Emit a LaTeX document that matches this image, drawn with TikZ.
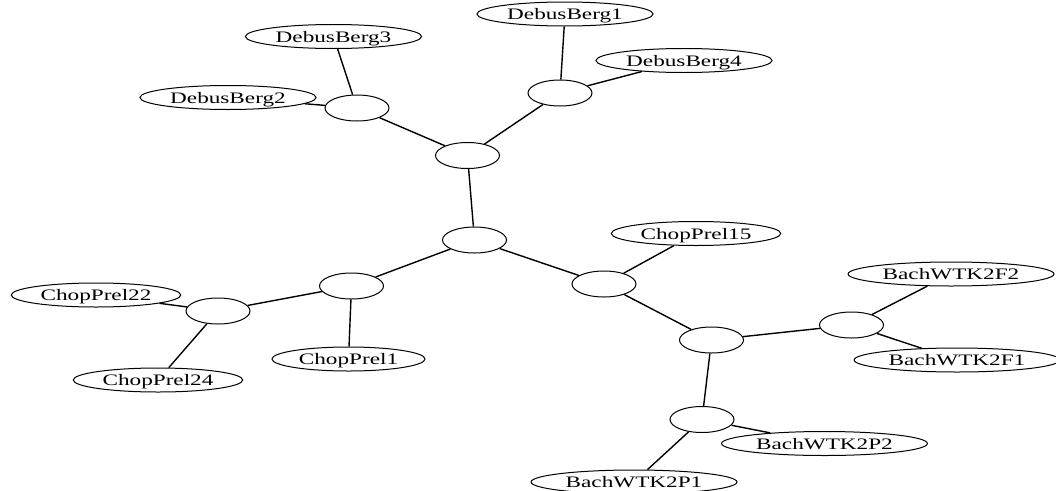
\documentclass[tikz,border=0pt]{standalone}
\usepackage{fontspec}
\setmainfont{Liberation Serif}
\newfontfamily\treefont[FakeStretch=1.45]{Liberation Serif}
\usetikzlibrary{shapes.geometric}

\tikzset{
  piece/.style={ellipse, draw, line width=1pt, inner xsep=4.5pt, inner ysep=0pt,
    minimum height=24pt, text height=11pt, text depth=0pt,
    font=\treefont\fontsize{16}{19}\selectfont},
  hub/.style={ellipse, draw, line width=1pt, minimum width=64pt,
    minimum height=26pt, inner sep=0pt},
  link/.style={line width=1.4pt}
}

\begin{document}
\begin{tikzpicture}[x=1pt,y=-1pt]
                            % Frame
                            \useasboundingbox (0,0) rectangle (1056,490);

                            % Inner nodes
                            \node[hub] (h1) at (357,108) {};
                            \node[hub] (h2) at (560,93) {};
                            \node[hub] (h3) at (467.5,155.5) {};
                            \node[hub] (h4) at (474.5,240) {};
                            \node[hub] (h5) at (351.5,286) {};
                            \node[hub] (h6) at (218,311) {};
                            \node[hub] (h7) at (604,284) {};
                            \node[hub] (h8) at (711.5,340) {};
                            \node[hub] (h9) at (851.5,325) {};
                            \node[hub] (h10) at (702,419.5) {};

                            % Pieces
                            \node[piece] (db1) at (565,14) {DebusBerg1};
                            \node[piece] (db2) at (228,97.5) {DebusBerg2};
                            \node[piece] (db3) at (333.5,36.5) {DebusBerg3};
                            \node[piece] (db4) at (684,60.5) {DebusBerg4};
                            \node[piece] (cp1) at (348.5,359) {ChopPrel1};
                            \node[piece] (cp15) at (696,233.5) {ChopPrel15};
                            \node[piece] (cp22) at (96,295) {ChopPrel22};
                            \node[piece] (cp24) at (158,380) {ChopPrel24};
                            \node[piece] (bf1) at (957,360) {BachWTK2F1};
                            \node[piece] (bf2) at (951,274) {BachWTK2F2};
                            \node[piece] (bp1) at (634,482) {BachWTK2P1};
                            \node[piece] (bp2) at (824.5,443.5) {BachWTK2P2};

                            % Edges
                            \draw[link] (db3) -- (h1);
                            \draw[link] (db2) -- (h1);
                            \draw[link] (h1) -- (h3);
                            \draw[link] (db1) -- (h2);
                            \draw[link] (db4) -- (h2);
                            \draw[link] (h2) -- (h3);
                            \draw[link] (h3) -- (h4);
                            \draw[link] (h4) -- (h5);
                            \draw[link] (h4) -- (h7);
                            \draw[link] (h5) -- (h6);
                            \draw[link] (h5) -- (cp1);
                            \draw[link] (h6) -- (cp22);
                            \draw[link] (h6) -- (cp24);
                            \draw[link] (h7) -- (cp15);
                            \draw[link] (h7) -- (h8);
                            \draw[link] (h8) -- (h9);
                            \draw[link] (h8) -- (h10);
                            \draw[link] (h9) -- (bf2);
                            \draw[link] (h9) -- (bf1);
                            \draw[link] (h10) -- (bp2);
                            \draw[link] (h10) -- (bp1);
\end{tikzpicture}
\end{document}
